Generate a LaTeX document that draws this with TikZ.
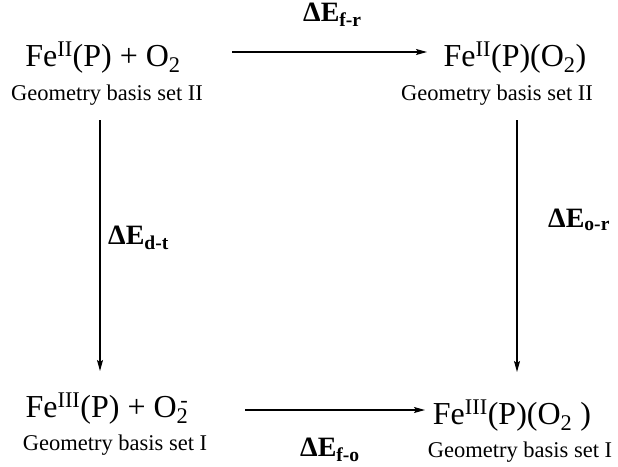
\documentclass[tikz,border=0pt]{standalone}
\usepackage{fontspec}
\setmainfont{Liberation Serif}
\usetikzlibrary{arrows.meta}
\tikzset{
  chem/.style={inner sep=0pt, anchor=base, font=\fontsize{32}{36}\selectfont},
  geom/.style={inner sep=0pt, anchor=base, font=\fontsize{22.5}{26}\selectfont},
  elabel/.style={inner sep=0pt, anchor=base west, font=\fontsize{28}{32}\selectfont\bfseries},
  rxn/.style={line width=1.2pt, -{Stealth[length=11pt,width=6pt,inset=2pt]}}
}
\newcommand{\sbs}[1]{\textsubscript{#1}}
\newcommand{\sps}[1]{\textsuperscript{#1}}
\begin{document}
\begin{tikzpicture}[x=1pt,y=-1pt]
\useasboundingbox (0,0) rectangle (618,466);
% species
\node[chem] (tl) at (103,66) {Fe\sps{II}(P) + O\sbs{2}};
\node[geom] (tlg) at (107,100) {Geometry basis set II};
\node[chem] (tr) at (515,66) {Fe\sps{II}(P)(O\sbs{2})};
\node[geom] (trg) at (497,100) {Geometry basis set II};
\node[chem] (bl) at (107,417) {Fe\sps{III}(P) + O\rlap{\sps{\,-}}\sbs{2}};
\node[geom] (blg) at (115,450) {Geometry basis set I};
\node[chem] (br) at (512,424) {Fe\sps{III}(P)(O\sbs{2}\hspace{0.25em})};
\node[geom] (brg) at (520,457) {Geometry basis set I};
% arrow end points
\coordinate (a1s) at (232,52);
\coordinate (a1e) at (427,52);
\coordinate (a2s) at (245,410);
\coordinate (a2e) at (425,410);
\coordinate (a3s) at (100,120);
\coordinate (a3e) at (100,371);
\coordinate (a4s) at (517,120);
\coordinate (a4e) at (517,372);
\draw[rxn] (a1s) -- (a1e);
\draw[rxn] (a2s) -- (a2e);
\draw[rxn] (a3s) -- (a3e);
\draw[rxn] (a4s) -- (a4e);
% energy labels
\node[elabel] (efr) at (303,21) {ΔE\sbs{f-r}};
\node[elabel] (efo) at (300,456) {ΔE\sbs{f-o}};
\node[elabel] (edt) at (108,244) {ΔE\sbs{d-t}};
\node[elabel] (eor) at (548,227) {ΔE\sbs{o-r}};
\end{tikzpicture}
\end{document}
